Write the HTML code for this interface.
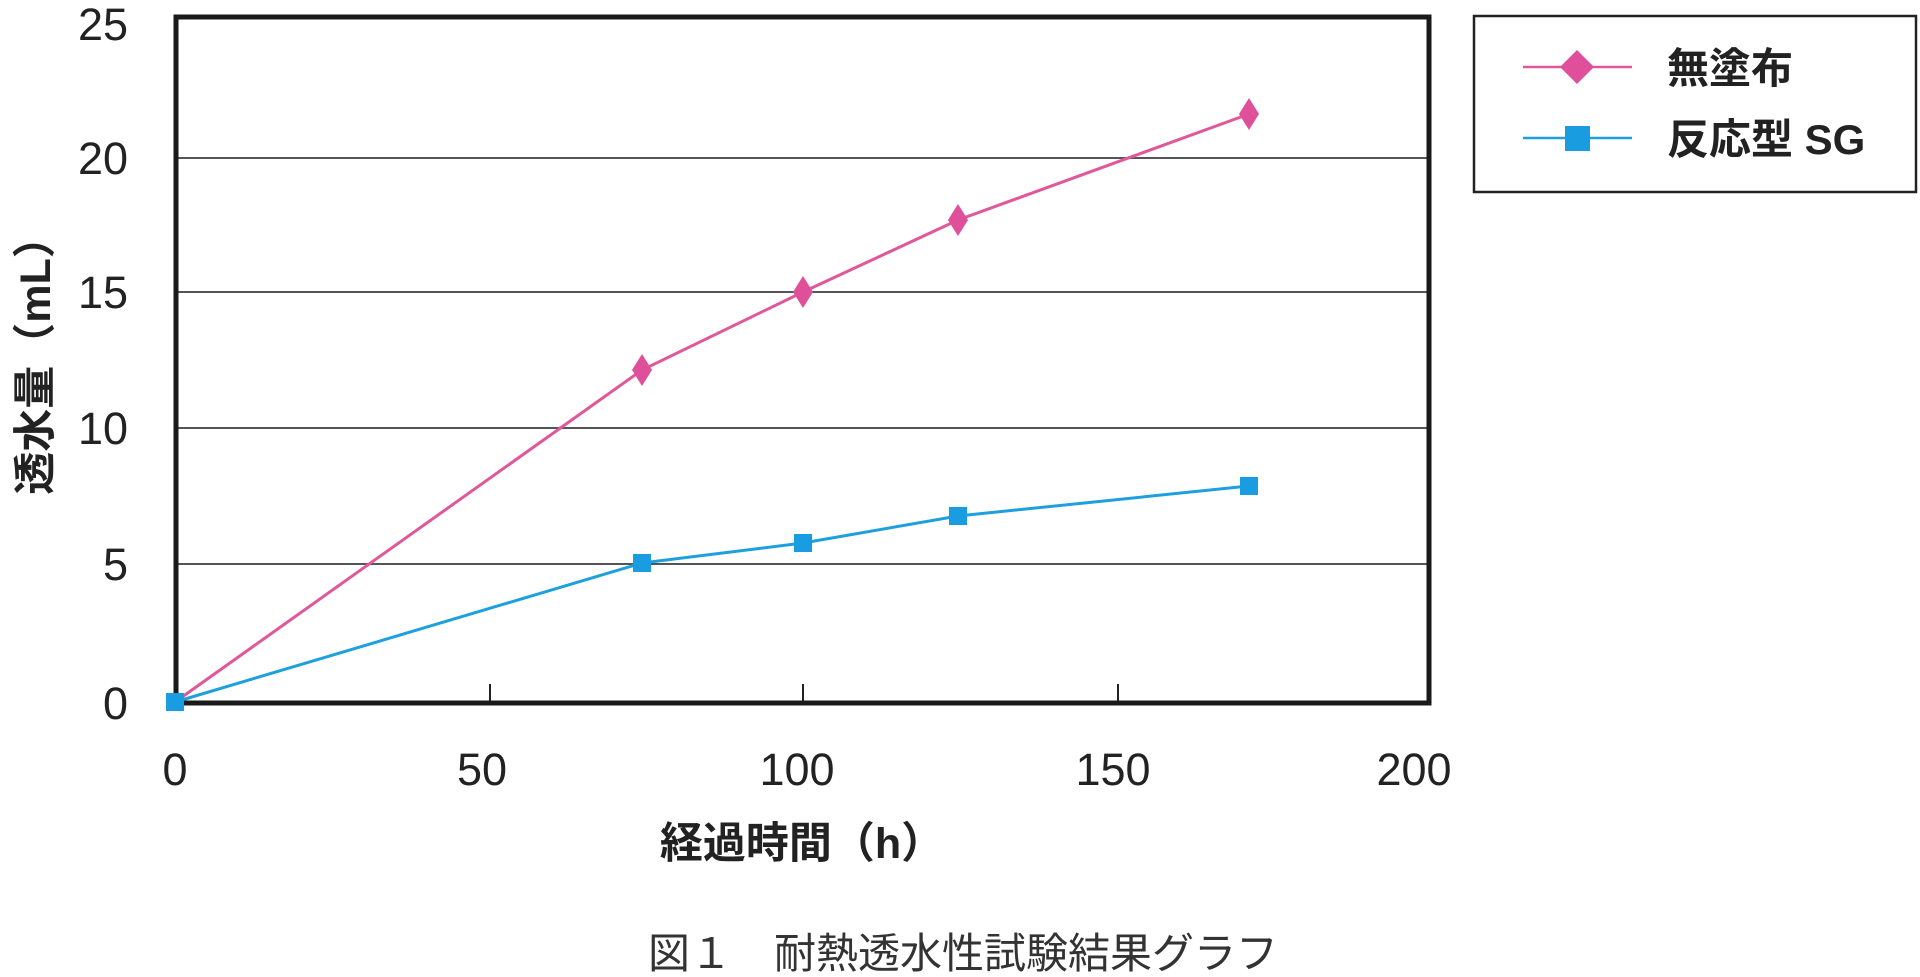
<!DOCTYPE html>
<html><head><meta charset="utf-8"><style>
html,body{margin:0;padding:0;background:#fff;}
svg{display:block;}
</style></head><body>
<svg width="1920" height="977" viewBox="0 0 1920 977" xmlns="http://www.w3.org/2000/svg">
<g stroke="#555" stroke-width="2">
<line x1="177" y1="564" x2="1428" y2="564"/>
<line x1="177" y1="428" x2="1428" y2="428"/>
<line x1="177" y1="292" x2="1428" y2="292"/>
<line x1="177" y1="158" x2="1428" y2="158"/>
</g>
<g stroke="#222" stroke-width="2">
<line x1="490" y1="684" x2="490" y2="702"/>
<line x1="803" y1="684" x2="803" y2="702"/>
<line x1="1118" y1="684" x2="1118" y2="702"/>
</g>
<rect x="176" y="17" width="1253" height="686" fill="none" stroke="#1a1a1a" stroke-width="5"/>
<g font-family="Liberation Sans, sans-serif" font-size="45" fill="#222" text-anchor="end">
<text x="128" y="719">0</text>
<text x="128" y="580">5</text>
<text x="128" y="444">10</text>
<text x="128" y="308">15</text>
<text x="128" y="174">20</text>
<text x="128" y="40">25</text>
</g>
<g font-family="Liberation Sans, sans-serif" font-size="45" fill="#222" text-anchor="middle">
<text x="175" y="785">0</text>
<text x="482" y="785">50</text>
<text x="797" y="785">100</text>
<text x="1113" y="785">150</text>
<text x="1414" y="785">200</text>
</g>
<text x="802" y="858" font-family="Liberation Sans, Noto Sans CJK JP, sans-serif" font-size="43" font-weight="bold" fill="#222" text-anchor="middle">経過時間（h）</text>
<text transform="translate(50,355) rotate(-90)" font-family="Liberation Sans, Noto Sans CJK JP, sans-serif" font-size="43" font-weight="bold" fill="#222" text-anchor="middle">透水量（mL）</text>
<text x="963" y="968" font-family="Liberation Sans, Noto Sans CJK JP, sans-serif" font-size="42" fill="#333" text-anchor="middle">図１　耐熱透水性試験結果グラフ</text>
<polyline fill="none" stroke="#e0589a" stroke-width="3" points="175,702 642,370 803,292 958,220 1249,114"/>
<polyline fill="none" stroke="#1ea0dc" stroke-width="3" points="175,702 642,563 803,543 958,516 1249,486"/>
<g fill="#e0509a">
<polygon points="642,354 652,370 642,386 632,370"/>
<polygon points="803,276 813,292 803,308 793,292"/>
<polygon points="958,204 968,220 958,236 948,220"/>
<polygon points="1249,98 1259,114 1249,130 1239,114"/>
</g>
<g fill="#1a9de0">
<rect x="166" y="693" width="18" height="18"/>
<rect x="633" y="554" width="18" height="18"/>
<rect x="794" y="534" width="18" height="18"/>
<rect x="949" y="507" width="18" height="18"/>
<rect x="1240" y="477" width="18" height="18"/>
</g>
<rect x="1474" y="16" width="442" height="176" fill="#fff" stroke="#222" stroke-width="2.5"/>
<line x1="1523" y1="67" x2="1632" y2="67" stroke="#e0589a" stroke-width="2.5"/>
<polygon points="1577,50 1594,67 1577,84 1560,67" fill="#e0509a"/>
<line x1="1523" y1="138" x2="1632" y2="138" stroke="#1ea0dc" stroke-width="2.5"/>
<rect x="1565" y="126" width="25" height="25" fill="#1a9de0"/>
<g font-family="Liberation Sans, Noto Sans CJK JP, sans-serif" font-size="42" font-weight="bold" fill="#222">
<text x="1667" y="83">無塗布</text>
<text x="1667" y="154">反応型 SG</text>
</g>
</svg>
</body></html>
